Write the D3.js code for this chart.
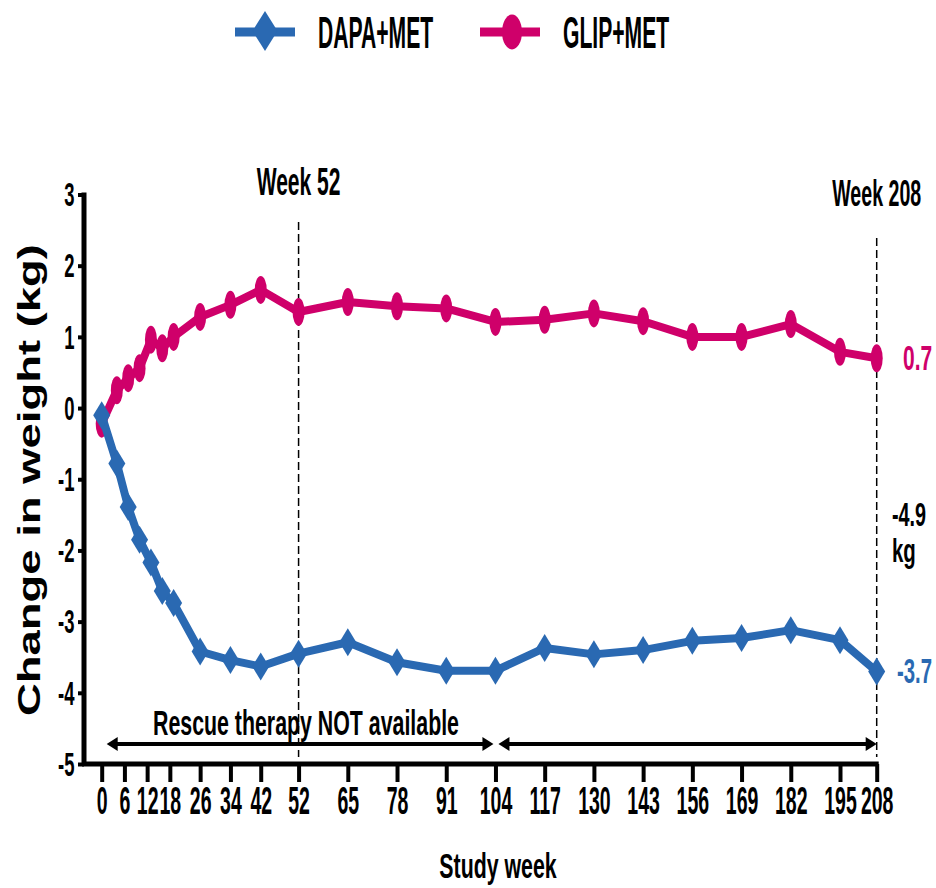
<!DOCTYPE html>
<html>
<head>
<meta charset="utf-8">
<script src="https://cdn.jsdelivr.net/npm/d3@7"></script>
<style>
  body { margin: 0; background: #fff; }
  svg { display: block; }
  text { font-family: "Liberation Sans", Arial, sans-serif; font-weight: bold; }
</style>
</head>
<body>
<svg id="chart" width="936" height="888"></svg>
<script>
// Study visits (weeks) shared by both arms
const weeks = [0, 4, 7, 10, 13, 16, 19, 26, 34, 42, 52, 65, 78, 91, 104, 117, 130, 143, 156, 169, 182, 195, 208];
// Mean change in body weight (kg)
const dapaMet = [-0.10, -0.78, -1.39, -1.85, -2.17, -2.57, -2.74, -3.42, -3.54, -3.63, -3.45, -3.29, -3.57, -3.69, -3.69, -3.37, -3.46, -3.40, -3.27, -3.23, -3.12, -3.26, -3.7];
const glipMet = [-0.22, 0.25, 0.42, 0.56, 0.96, 0.84, 1.00, 1.28, 1.45, 1.66, 1.35, 1.49, 1.43, 1.40, 1.21, 1.24, 1.33, 1.22, 1.00, 1.00, 1.18, 0.79, 0.7];
const seriesNames = ["DAPA+MET", "GLIP+MET"];
const xTicks = [0, 6, 12, 18, 26, 34, 42, 52, 65, 78, 91, 104, 117, 130, 143, 156, 169, 182, 195, 208];
const yTicks = [-5, -4, -3, -2, -1, 0, 1, 2, 3];
const markerWeeks = [52, 208];
const difference = "-4.9";

const BLUE = "#2a69b2";
const PINK = "#cf006a";

const svg = d3.select("#chart");

// The last interval of the week axis is drawn compressed
const x = d3.scaleLinear().domain([0, 195, 208]).range([101.7, 840, 876.7]);
const y = d3.scaleLinear().domain([-5, 3]).range([764, 194.5]);

// plain hyphen-minus for negative numbers
const fmtInt = d => String(d);
const fmt1 = d => d.toFixed(1);

// Bold text squeezed horizontally
function addText(parent, px, py, str, size, sx, anchor, fill) {
  const g = parent.append("g").attr("transform", `translate(${px},${py}) scale(${sx},1)`);
  g.append("text")
    .attr("text-anchor", anchor || "start")
    .attr("font-size", size)
    .attr("fill", fill || "#000")
    .text(str);
  return g;
}

// ---- axes ----
const xAxis = svg.append("g")
  .attr("transform", `translate(0,${y(-5)})`)
  .call(d3.axisBottom(x).tickValues(xTicks).tickSize(18).tickFormat(fmtInt));
xAxis.select(".domain").remove();
xAxis.selectAll(".tick line").attr("stroke", "#000").attr("stroke-width", 4);
xAxis.selectAll(".tick text")
  .attr("y", 50).attr("dy", 0)
  .attr("font-size", 39)
  .attr("font-family", null)
  .attr("fill", "#000")
  .attr("transform", "scale(0.5,1)");

const yAxis = svg.append("g")
  .attr("transform", "translate(84,0)")
  .call(d3.axisLeft(y).tickValues(yTicks).tickSize(6).tickFormat(fmtInt));
yAxis.select(".domain").remove();
yAxis.selectAll(".tick line").attr("stroke", "#000").attr("stroke-width", 4);
yAxis.selectAll(".tick text")
  .attr("x", -17).attr("dy", "0.34em")
  .attr("font-size", 33)
  .attr("font-family", null)
  .attr("fill", "#000")
  .attr("transform", "scale(0.56,1)");

svg.append("line").attr("x1", 84).attr("x2", 84).attr("y1", y(3) - 2).attr("y2", y(-5) + 2)
  .attr("stroke", "#000").attr("stroke-width", 5);
svg.append("line").attr("x1", 82).attr("x2", x(208) + 2).attr("y1", y(-5)).attr("y2", y(-5))
  .attr("stroke", "#000").attr("stroke-width", 5);

// axis titles
svg.append("g")
  .attr("transform", "translate(40,480) rotate(-90) scale(1.42,1)")
  .append("text").attr("text-anchor", "middle").attr("font-size", 32).attr("fill", "#000")
  .text("Change in weight (kg)");
addText(svg, 498, 878, "Study week", 35, 0.61, "middle");

// ---- reference lines at week 52 and 208 ----
const refTop = [222, 238];
markerWeeks.forEach((w, i) => {
  svg.append("line")
    .attr("x1", x(w)).attr("x2", x(w))
    .attr("y1", refTop[i]).attr("y2", y(-5) - 7)
    .attr("stroke", "#000").attr("stroke-width", 1.5)
    .attr("stroke-dasharray", "8,4");
});
addText(svg, x(52), 195, "Week " + markerWeeks[0], 39, 0.54, "middle");
addText(svg, x(208), 206, "Week " + markerWeeks[1], 37, 0.53, "middle");

// ---- rescue therapy arrows ----
function arrow(x1, x2, yy) {
  const g = svg.append("g");
  g.append("line").attr("x1", x1 + 6).attr("x2", x2 - 6).attr("y1", yy).attr("y2", yy)
    .attr("stroke", "#000").attr("stroke-width", 4);
  g.append("path").attr("d", `M${x1},${yy} L${x1 + 11},${yy - 7} L${x1 + 11},${yy + 7}Z`).attr("fill", "#000");
  g.append("path").attr("d", `M${x2},${yy} L${x2 - 11},${yy - 7} L${x2 - 11},${yy + 7}Z`).attr("fill", "#000");
}
arrow(x(0) + 5, x(104) - 2, 744);
arrow(x(104) + 3, x(208), 744);
addText(svg, 306, 735, "Rescue therapy NOT available", 35, 0.61, "middle");

// ---- series ----
const line = d3.line().x(d => x(d.w)).y(d => y(d.v));
const glipData = weeks.map((w, i) => ({ w, v: glipMet[i] }));
const dapaData = weeks.map((w, i) => ({ w, v: dapaMet[i] }));

const diamond = (w, h) => `M0,${-h} L${w},0 L0,${h} L${-w},0Z`;

// GLIP+MET (drawn first, underneath)
svg.append("path").datum(glipData).attr("d", line)
  .attr("fill", "none").attr("stroke", PINK).attr("stroke-width", 8)
  .attr("stroke-linejoin", "round");
svg.append("g").selectAll("ellipse").data(glipData).join("ellipse")
  .attr("cx", d => x(d.w)).attr("cy", d => y(d.v))
  .attr("rx", 6).attr("ry", 14).attr("fill", PINK);

// DAPA+MET
svg.append("path").datum(dapaData).attr("d", line)
  .attr("fill", "none").attr("stroke", BLUE).attr("stroke-width", 8)
  .attr("stroke-linejoin", "round");
svg.append("g").selectAll("path").data(dapaData).join("path")
  .attr("transform", d => `translate(${x(d.w)},${y(d.v)})`)
  .attr("d", diamond(8.5, 14)).attr("fill", BLUE);

// end-of-study values
const last = weeks.length - 1;
addText(svg, 903, y(glipMet[last]) + 12, fmt1(glipMet[last]), 35, 0.6, "start", PINK);
addText(svg, 897, y(dapaMet[last]) + 12, fmt1(dapaMet[last]), 35, 0.58, "start", BLUE);
addText(svg, 892, 526, difference, 33, 0.6, "start");
addText(svg, 892, 562, "kg", 33, 0.62, "start");

// ---- legend ----
const legend = svg.append("g");
const legendItems = [
  { name: seriesNames[0], color: BLUE, x0: 235, tx: 318, shape: "diamond" },
  { name: seriesNames[1], color: PINK, x0: 480, tx: 563, shape: "ellipse" }
];
legendItems.forEach(it => {
  legend.append("line").attr("x1", it.x0).attr("x2", it.x0 + 60).attr("y1", 32).attr("y2", 32)
    .attr("stroke", it.color).attr("stroke-width", 9);
  if (it.shape === "diamond") {
    legend.append("path").attr("transform", `translate(${it.x0 + 30},31)`)
      .attr("d", diamond(12.5, 20)).attr("fill", it.color);
  } else {
    legend.append("ellipse").attr("cx", it.x0 + 32).attr("cy", 32).attr("rx", 10).attr("ry", 17.5)
      .attr("fill", it.color);
  }
  addText(legend, it.tx, 48, it.name, 44, 0.48, "start");
});
</script>
</body>
</html>
